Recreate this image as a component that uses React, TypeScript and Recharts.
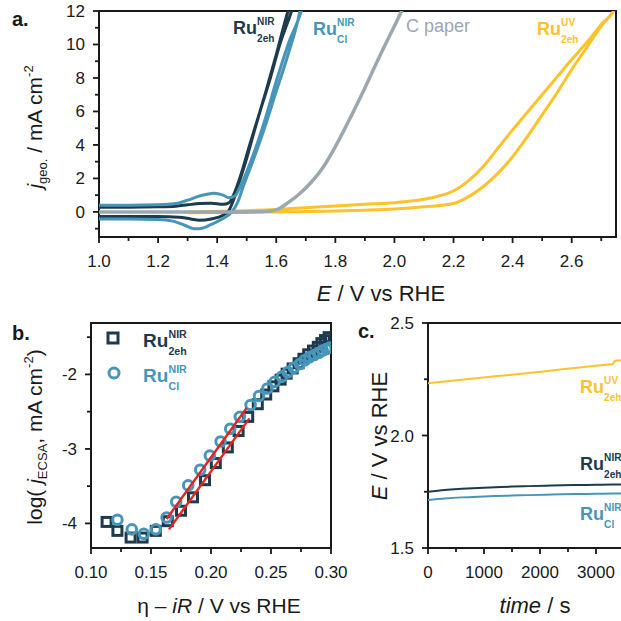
import React from 'react';
import {
    LineChart,
    Line,
    ScatterChart,
    Scatter,
    XAxis,
    YAxis,
    ReferenceArea
} from 'recharts';

const FONT = '"Liberation Sans", Arial, sans-serif';
const INK = '#1a1a1a';
const NAVY = '#1d3b4c';
const TEAL = '#4796b9';
const GREY = '#9ba8b0';
const GOLD = '#fdc22c';
const RED = '#e8231f';

// ---- panel a: cyclic voltammograms (E in V vs RHE, j in mA cm-2) ----
const nir2ehE = [1.0, 1.1, 1.2, 1.26, 1.3, 1.34, 1.38, 1.42, 1.44, 1.46, 1.48, 1.51, 1.545, 1.58, 1.612, 1.652, 1.67,
    1.66, 1.64, 1.6, 1.565, 1.53, 1.5, 1.475, 1.455, 1.44, 1.42, 1.38, 1.34, 1.31, 1.27, 1.2, 1.1, 1.0];
const nir2ehJ = [0.28, 0.28, 0.3, 0.34, 0.42, 0.5, 0.52, 0.45, 0.55, 1.2, 2.2, 4.0, 6.0, 8.0, 10.0, 12.0, 13,
    13, 12, 9.4, 7.2, 5.1, 3.2, 1.8, 0.7, 0.1, -0.2, -0.42, -0.5, -0.42, -0.32, -0.28, -0.28, -0.28];

const nirClE = [1.0, 1.1, 1.2, 1.26, 1.3, 1.34, 1.39, 1.42, 1.44, 1.46, 1.48, 1.5, 1.53, 1.56, 1.6, 1.64, 1.69, 1.7,
    1.69, 1.68, 1.64, 1.6, 1.56, 1.52, 1.49, 1.47, 1.45, 1.42, 1.38, 1.34, 1.32, 1.29, 1.25, 1.2, 1.1, 1.0];
const nirClJ = [0.4, 0.4, 0.42, 0.5, 0.7, 0.95, 1.12, 1.0, 0.85, 0.95, 1.6, 2.4, 3.8, 5.4, 7.8, 10.0, 12.3, 13,
    13, 12, 9.4, 7.2, 5.0, 3.0, 1.6, 0.6, 0.0, -0.4, -0.75, -1.0, -1.0, -0.8, -0.55, -0.45, -0.42, -0.42];

const paperE = [1.0, 1.3, 1.5, 1.56, 1.6, 1.64, 1.68, 1.72, 1.76, 1.8, 1.85, 1.9, 1.95, 2.0, 2.03, 2.05];
const paperJ = [0, 0, 0, 0.02, 0.12, 0.55, 1.1, 1.8, 2.7, 3.9, 5.6, 7.4, 9.3, 11.1, 12.2, 12.9];

const uv2ehE = [1.3, 1.45, 1.6, 1.7, 1.8, 1.9, 2.0, 2.1, 2.15, 2.2, 2.25, 2.3, 2.35, 2.4, 2.45, 2.5, 2.55, 2.6, 2.65, 2.7, 2.75,
    2.75, 2.7, 2.65, 2.6, 2.55, 2.5, 2.45, 2.4, 2.35, 2.3, 2.25, 2.2, 2.1, 2.0, 1.9, 1.8, 1.7, 1.6, 1.45, 1.3];
const uv2ehJ = [0, 0.05, 0.15, 0.25, 0.35, 0.45, 0.55, 0.75, 0.95, 1.25, 1.85, 2.7, 3.8, 4.9, 5.95, 7.0, 8.05, 9.1, 10.1, 11.2, 12.3,
    12.3, 11.1, 9.8, 8.5, 7.1, 5.8, 4.5, 3.3, 2.3, 1.5, 0.9, 0.5, 0.3, 0.17, 0.1, 0.05, 0.02, 0, -0.03, -0.05];

const aTicksX = [1.0, 1.1, 1.2, 1.3, 1.4, 1.5, 1.6, 1.7, 1.8, 1.9, 2.0, 2.1, 2.2, 2.3, 2.4, 2.5, 2.6, 2.7];
const aMajorX = [1.0, 1.2, 1.4, 1.6, 1.8, 2.0, 2.2, 2.4, 2.6];
const aTicksY = [-1, 0, 1, 2, 3, 4, 5, 6, 7, 8, 9, 10, 11, 12];
const aMajorY = [0, 2, 4, 6, 8, 10, 12];

// ---- panel b: Tafel plots ----
const tafel2ehEta = [0.113, 0.122, 0.133, 0.143, 0.154, 0.164, 0.175, 0.185, 0.195, 0.204, 0.214, 0.223, 0.231, 0.239,
    0.246, 0.252, 0.258, 0.263, 0.268, 0.273, 0.277, 0.281, 0.285, 0.289, 0.292, 0.295, 0.298];
const tafel2ehLog = [-3.98, -4.1, -4.19, -4.19, -4.1, -3.97, -3.83, -3.65, -3.42, -3.19, -2.98, -2.76, -2.57, -2.4,
    -2.27, -2.16, -2.07, -1.99, -1.92, -1.85, -1.79, -1.73, -1.68, -1.63, -1.58, -1.54, -1.5];
const tafelClEta = [0.122, 0.134, 0.144, 0.154, 0.163, 0.171, 0.181, 0.191, 0.199, 0.208, 0.216, 0.224, 0.233, 0.24,
    0.247, 0.253, 0.259, 0.264, 0.269, 0.274, 0.278, 0.282, 0.286, 0.29, 0.293, 0.296, 0.299];
const tafelClLog = [-3.95, -4.08, -4.14, -4.08, -3.92, -3.71, -3.49, -3.28, -3.09, -2.9, -2.73, -2.57, -2.41, -2.29,
    -2.19, -2.1, -2.03, -1.97, -1.91, -1.86, -1.81, -1.77, -1.74, -1.71, -1.68, -1.66, -1.64];
const fitClEta = [0.163, 0.2297];
const fitClLog = [-3.94, -2.45];
const fit2ehEta = [0.165, 0.232];
const fit2ehLog = [-4.08, -2.59];

const bTicksX = [0.1, 0.125, 0.15, 0.175, 0.2, 0.225, 0.25, 0.275, 0.3];
const bMajorX = [0.1, 0.15, 0.2, 0.25, 0.3];
const bTicksY = [-4, -3.5, -3, -2.5, -2, -1.5];
const bMajorY = [-4, -3, -2];

// ---- panel c: chronopotentiometry ----
const timeS = [0, 300, 600, 900, 1200, 1500, 1800, 2100, 2400, 2700, 3000, 3300, 3340, 3600];
const uvPot = [2.232, 2.24, 2.248, 2.256, 2.263, 2.27, 2.278, 2.286, 2.294, 2.302, 2.31, 2.318, 2.332, 2.338];
const nir2ehPot = [1.75, 1.758, 1.763, 1.767, 1.77, 1.773, 1.775, 1.777, 1.779, 1.78, 1.781, 1.782, 1.782, 1.784];
const nirClPot = [1.713, 1.72, 1.725, 1.728, 1.731, 1.733, 1.735, 1.737, 1.739, 1.74, 1.741, 1.742, 1.742, 1.744];

const cTicksX = [0, 500, 1000, 1500, 2000, 2500, 3000, 3500];
const cMajorX = [0, 1000, 2000, 3000];
const cTicksY = [1.5, 1.75, 2.0, 2.25, 2.5];
const cMajorY = [1.5, 2.0, 2.5];

const zip = (xs: number[], ys: number[]) => xs.map((x, i) => ({ x, y: ys[i] }));
const potData = timeS.map((t, i) => ({ t, uv: uvPot[i], n2eh: nir2ehPot[i], ncl: nirClPot[i] }));

const isMajor = (list: number[], v: number) => list.some(m => Math.abs(m - v) < 1e-9);

const bottomTick = (majors: number[], fmt: (v: number) => string) => (props: any) => {
    const { x, y, payload } = props;
    const major = isMajor(majors, payload.value);
    return (
        <g>
            <line x1={x} y1={y} x2={x} y2={y + (major ? 6 : 4)} stroke={INK} strokeWidth={1.8} />
            {major && (
                <text x={x} y={y + 30} textAnchor="middle" fontSize={17} fill={INK} fontFamily={FONT}>
                    {fmt(payload.value)}
                </text>
            )}
        </g>
    );
};

const leftTick = (majors: number[], fmt: (v: number) => string) => (props: any) => {
    const { x, y, payload } = props;
    const major = isMajor(majors, payload.value);
    return (
        <g>
            <line x1={x} y1={y} x2={x - (major ? 6 : 4)} y2={y} stroke={INK} strokeWidth={1.8} />
            {major && (
                <text x={x - 14} y={y + 6} textAnchor="end" fontSize={17} fill={INK} fontFamily={FONT}>
                    {fmt(payload.value)}
                </text>
            )}
        </g>
    );
};

const RuLabel = ({ x, y, sup, sub, color, size = 18 }: any) => (
    <g fill={color} fontFamily={FONT} fontWeight="bold">
        <text x={x} y={y} fontSize={size}>Ru</text>
        <text x={x + size * 1.34} y={y - size * 0.5} fontSize={size * 0.56}>{sup}</text>
        <text x={x + size * 1.34} y={y + size * 0.42} fontSize={size * 0.56}>{sub}</text>
    </g>
);

export default function App() {
    return (
        <div style={{ position: 'fixed', left: 0, top: 0, width: 621, height: 621, overflow: 'hidden', background: '#fff', fontFamily: FONT }}>
            {/* a */}
            <div style={{ position: 'absolute', left: 0, top: 0 }}>
                <LineChart width={621} height={310} margin={{ top: 11, right: 5, bottom: 0, left: 0 }}>
                    <XAxis type="number" dataKey="x" domain={[1.0, 2.75]} ticks={aTicksX} interval={0}
                        allowDataOverflow axisLine={false} tickLine={false} tickSize={0} tickMargin={0} height={73}
                        tick={bottomTick(aMajorX, v => v.toFixed(1))} />
                    <YAxis type="number" dataKey="y" domain={[-1.5, 12]} ticks={aTicksY} interval={0}
                        allowDataOverflow axisLine={false} tickLine={false} tickSize={0} tickMargin={0} width={99}
                        tick={leftTick(aMajorY, v => String(v))} />
                    <Line data={zip(uv2ehE, uv2ehJ)} dataKey="y" stroke={GOLD} strokeWidth={3} dot={false} type="monotone" isAnimationActive={false} />
                    <Line data={zip(nir2ehE, nir2ehJ)} dataKey="y" stroke={NAVY} strokeWidth={3} dot={false} type="monotone" isAnimationActive={false} />
                    <Line data={zip(nirClE, nirClJ)} dataKey="y" stroke={TEAL} strokeWidth={3} dot={false} type="monotone" isAnimationActive={false} />
                    <Line data={zip(paperE, paperJ)} dataKey="y" stroke={GREY} strokeWidth={3.5} dot={false} type="monotone" isAnimationActive={false} />
                    <ReferenceArea x1={1.0} x2={2.75} y1={-1.5} y2={12} fill="none" stroke={INK} strokeWidth={2} />
                </LineChart>
            </div>

            {/* b */}
            <div style={{ position: 'absolute', left: 0, top: 300 }}>
                <ScatterChart width={360} height={321} margin={{ top: 23, right: 29, bottom: 0, left: 0 }}>
                    <XAxis type="number" dataKey="x" domain={[0.1, 0.3]} ticks={bTicksX} interval={0}
                        allowDataOverflow axisLine={false} tickLine={false} tickSize={0} tickMargin={0} height={73}
                        tick={bottomTick(bMajorX, v => v.toFixed(2))} />
                    <YAxis type="number" dataKey="y" domain={[-4.33, -1.31]} ticks={bTicksY} interval={0}
                        allowDataOverflow axisLine={false} tickLine={false} tickSize={0} tickMargin={0} width={91}
                        tick={leftTick(bMajorY, v => String(v))} />
                    <Scatter data={zip(tafel2ehEta, tafel2ehLog)} isAnimationActive={false}
                        shape={(p: any) => <rect x={p.cx - 4.5} y={p.cy - 4.5} width={9} height={9} fill="none" stroke={NAVY} strokeWidth={3} />} />
                    <Scatter data={zip(tafelClEta, tafelClLog)} isAnimationActive={false}
                        shape={(p: any) => <circle cx={p.cx} cy={p.cy} r={4.8} fill="none" stroke={TEAL} strokeWidth={3} />} />
                    <Scatter data={zip(fitClEta, fitClLog)} isAnimationActive={false}
                        line={{ stroke: RED, strokeWidth: 2.4 }} shape={() => <g />} />
                    <Scatter data={zip(fit2ehEta, fit2ehLog)} isAnimationActive={false}
                        line={{ stroke: RED, strokeWidth: 2.4 }} shape={() => <g />} />
                    <ReferenceArea x1={0.1} x2={0.3} y1={-4.33} y2={-1.31} fill="none" stroke={INK} strokeWidth={2} />
                </ScatterChart>
            </div>

            {/* c */}
            <div style={{ position: 'absolute', left: 340, top: 300 }}>
                <LineChart width={312} height={321} data={potData} margin={{ top: 23, right: 0, bottom: 0, left: 0 }}>
                    <XAxis type="number" dataKey="t" domain={[0, 4000]} ticks={cTicksX} interval={0}
                        allowDataOverflow axisLine={false} tickLine={false} tickSize={0} tickMargin={0} height={73}
                        tick={bottomTick(cMajorX, v => String(v))} />
                    <YAxis type="number" domain={[1.5, 2.5]} ticks={cTicksY} interval={0}
                        allowDataOverflow axisLine={false} tickLine={false} tickSize={0} tickMargin={0} width={88}
                        tick={leftTick(cMajorY, v => v.toFixed(1))} />
                    <Line dataKey="uv" stroke={GOLD} strokeWidth={2} dot={false} type="linear" isAnimationActive={false} />
                    <Line dataKey="n2eh" stroke={NAVY} strokeWidth={2} dot={false} type="monotone" isAnimationActive={false} />
                    <Line dataKey="ncl" stroke={TEAL} strokeWidth={2} dot={false} type="monotone" isAnimationActive={false} />
                    <ReferenceArea x1={0} x2={4000} y1={1.5} y2={2.5} fill="none" stroke={INK} strokeWidth={2} />
                </LineChart>
            </div>

            {/* titles and annotations */}
            <svg width={621} height={621} style={{ position: 'absolute', left: 0, top: 0, pointerEvents: 'none' }} fontFamily={FONT}>
                <text x={12} y={26} fontSize={20} fontWeight="bold" fill={INK}>a.</text>
                <text x={12} y={340} fontSize={20} fontWeight="bold" fill={INK}>b.</text>
                <text x={358} y={338} fontSize={20} fontWeight="bold" fill={INK}>c.</text>

                <text transform="translate(42,127) rotate(-90)" textAnchor="middle" fontSize={21} fill={INK}>
                    <tspan fontStyle="italic">j</tspan>
                    <tspan fontSize={13} dy={5}>geo.</tspan>
                    <tspan dy={-5}> / mA cm</tspan>
                    <tspan fontSize={13} dy={-9}>-2</tspan>
                </text>
                <text x={381} y={301} textAnchor="middle" fontSize={22} fill={INK}>
                    <tspan fontStyle="italic">E</tspan> / V vs RHE
                </text>

                <RuLabel x={233} y={34} sup="NIR" sub="2eh" color={NAVY} />
                <RuLabel x={313} y={35} sup="NIR" sub="Cl" color={TEAL} />
                <text x={406} y={32} fontSize={18} fill={GREY}>C paper</text>
                <RuLabel x={537} y={35} sup="UV" sub="2eh" color={GOLD} />

                <text transform="translate(42,437) rotate(-90)" textAnchor="middle" fontSize={21} fill={INK}>
                    log(
                    <tspan fontStyle="italic"> j</tspan>
                    <tspan fontSize={13} dy={5}>ECSA</tspan>
                    <tspan dy={-5}>, mA cm</tspan>
                    <tspan fontSize={13} dy={-9}>-2</tspan>
                    <tspan dy={9}>)</tspan>
                </text>
                <text x={219} y={613} textAnchor="middle" fontSize={21} fill={INK}>
                    η – <tspan fontStyle="italic">iR</tspan> / V vs RHE
                </text>

                <rect x={108} y={333} width={10} height={10} fill="none" stroke={NAVY} strokeWidth={3} />
                <RuLabel x={143} y={347} sup="NIR" sub="2eh" color={NAVY} size={19} />
                <circle cx={114} cy={373} r={5} fill="none" stroke={TEAL} strokeWidth={3} />
                <RuLabel x={143} y={382} sup="NIR" sub="Cl" color={TEAL} size={19} />

                <text transform="translate(387,436) rotate(-90)" textAnchor="middle" fontSize={22} fill={INK}>
                    <tspan fontStyle="italic">E</tspan> / V vs RHE
                </text>
                <text x={535} y={613} textAnchor="middle" fontSize={22} fill={INK}>
                    <tspan fontStyle="italic">time</tspan> / s
                </text>

                <RuLabel x={580} y={393} sup="UV" sub="2eh" color={GOLD} />
                <RuLabel x={580} y={470} sup="NIR" sub="2eh" color={NAVY} />
                <RuLabel x={580} y={520} sup="NIR" sub="Cl" color={TEAL} />
            </svg>
        </div>
    );
}
